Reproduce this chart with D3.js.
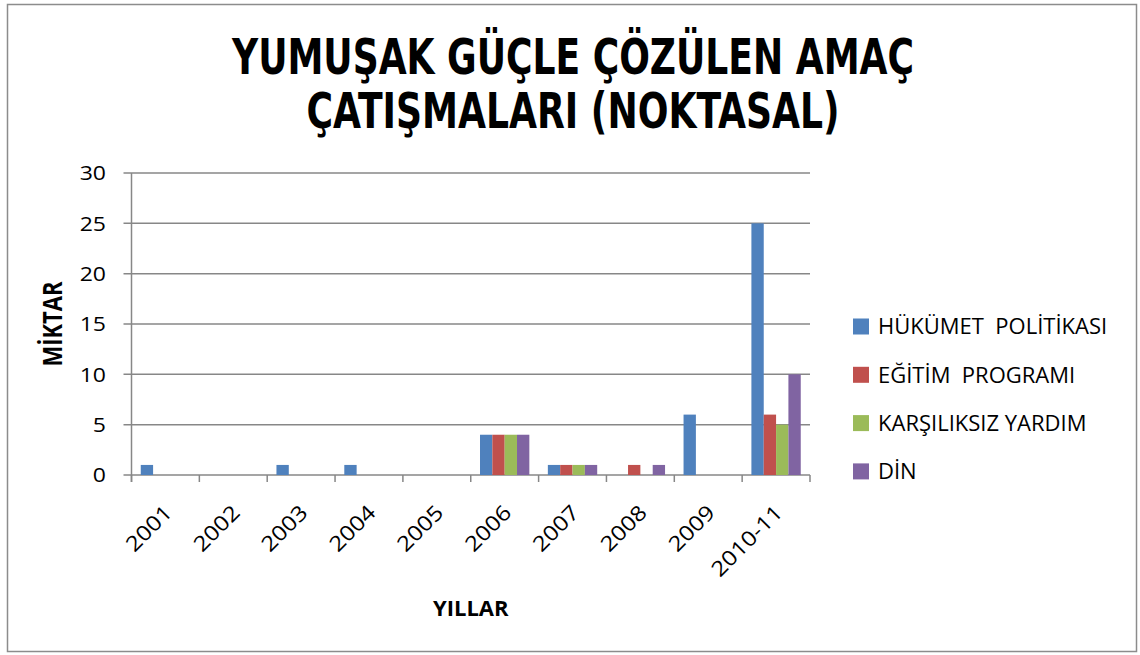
<!DOCTYPE html>
<html>
<head>
<meta charset="utf-8">
<script src="https://cdn.jsdelivr.net/npm/d3@7"></script>
<style>
  html, body { margin: 0; padding: 0; background: #fff; }
  svg { display: block; }
</style>
</head>
<body>
<svg id="chart" width="1140" height="655"></svg>
<script>
// Years on the category axis
const years = ["2001", "2002", "2003", "2004", "2005", "2006", "2007", "2008", "2009", "2010-11"];

// Series names (legend order)
const seriesNames = ["HÜKÜMET  POLİTİKASI", "EĞİTİM  PROGRAMI", "KARŞILIKSIZ YARDIM", "DİN"];

// Values per series, one per year
const hukumetPolitikasi = [1, 0, 1, 1, 0, 4, 1, 0, 6, 25];
const egitimProgrami    = [0, 0, 0, 0, 0, 4, 1, 1, 0, 6];
const karsiliksizYardim = [0, 0, 0, 0, 0, 4, 1, 0, 0, 5];
const din               = [0, 0, 0, 0, 0, 4, 1, 1, 0, 10];

// Value axis ticks
const yTicks = [0, 5, 10, 15, 20, 25, 30];

const titleLines = ["YUMUŞAK GÜÇLE ÇÖZÜLEN AMAÇ", "ÇATIŞMALARI (NOKTASAL)"];
const yAxisTitle = "MİKTAR";
const xAxisTitle = "YILLAR";

const seriesValues = [hukumetPolitikasi, egitimProgrami, karsiliksizYardim, din];
const colors = ["#4F81BD", "#C0504D", "#9BBB59", "#8064A2"];

const svg = d3.select("#chart");
const gridColor = "#878787";
const bodyFont = "'Open Sans', 'DejaVu Sans', sans-serif";
const wide = 1.15; // horizontal widening of the label glyphs

// Outer frame
svg.append("rect")
  .attr("x", 7.5).attr("y", 4.5)
  .attr("width", 1129).attr("height", 647)
  .attr("fill", "#fff")
  .attr("stroke", "#8c8c8c").attr("stroke-width", 1.5);

// Plot area
const plot = { left: 131.5, right: 810, top: 173, bottom: 475 };

const x0 = d3.scaleBand().domain(years).range([plot.left, plot.right]).paddingInner(0).paddingOuter(0);
const x1 = d3.scaleBand().domain(d3.range(seriesNames.length))
  .range([0, x0.bandwidth()]).paddingInner(0).paddingOuter(0.75);
const y = d3.scaleLinear().domain([0, 30]).range([plot.bottom, plot.top]);

// Horizontal gridlines with outward tick marks
svg.append("g")
  .selectAll("line")
  .data(yTicks)
  .join("line")
  .attr("x1", plot.left - 8).attr("x2", plot.right)
  .attr("y1", d => y(d)).attr("y2", d => y(d))
  .attr("stroke", gridColor).attr("stroke-width", 1.5);

// Value axis labels
svg.append("g")
  .selectAll("text")
  .data(yTicks)
  .join("text")
  .attr("transform", d => `translate(106,${y(d)}) scale(${wide},1)`)
  .attr("dy", "0.36em")
  .attr("text-anchor", "end")
  .attr("font-family", bodyFont).attr("font-size", 20)
  .attr("fill", "#000")
  .text(d => d);

// Value axis line
svg.append("line")
  .attr("x1", plot.left).attr("x2", plot.left)
  .attr("y1", plot.top).attr("y2", plot.bottom + 7)
  .attr("stroke", gridColor).attr("stroke-width", 1.5);

// Category boundary ticks
const boundaries = years.map(d => x0(d)).concat([plot.right]);
svg.append("g")
  .selectAll("line")
  .data(boundaries)
  .join("line")
  .attr("x1", d => d).attr("x2", d => d)
  .attr("y1", plot.bottom).attr("y2", plot.bottom + 7)
  .attr("stroke", gridColor).attr("stroke-width", 1.5);

// Bars
const groups = svg.append("g")
  .selectAll("g")
  .data(years)
  .join("g")
  .attr("transform", d => `translate(${x0(d)},0)`);

groups.selectAll("rect")
  .data((d, i) => seriesValues.map((vals, s) => ({ s, v: vals[i] })))
  .join("rect")
  .attr("x", d => x1(d.s))
  .attr("width", x1.bandwidth())
  .attr("y", d => y(d.v))
  .attr("height", d => y(0) - y(d.v))
  .attr("fill", d => colors[d.s]);

// Category labels, rotated
svg.append("g")
  .selectAll("text")
  .data(years)
  .join("text")
  .attr("text-anchor", "end")
  .attr("transform", d => `translate(${x0(d) + x0.bandwidth() / 2 + 8},${plot.bottom + 39}) rotate(-45) scale(${wide},1)`)
  .attr("font-family", bodyFont).attr("font-size", 21)
  .attr("fill", "#000")
  .text(d => d);

// Axis titles
svg.append("text")
  .attr("x", (plot.left + plot.right) / 2).attr("y", 616)
  .attr("text-anchor", "middle")
  .attr("font-family", bodyFont).attr("font-weight", "bold").attr("font-size", 22)
  .text(xAxisTitle);

svg.append("text")
  .attr("transform", `translate(62,${(plot.top + plot.bottom) / 2}) scale(1.25,1) rotate(-90)`)
  .attr("text-anchor", "middle")
  .attr("font-family", bodyFont).attr("font-weight", "bold").attr("font-size", 22)
  .text(yAxisTitle);

// Chart title
const titleFont = "'Liberation Sans Narrow', 'DejaVu Sans Condensed', 'Open Sans', sans-serif";
const titleY = [74, 128];
const titleWidths = [682, 533];
svg.append("g")
  .selectAll("text")
  .data(titleLines)
  .join("text")
  .attr("x", 573)
  .attr("y", (d, i) => titleY[i])
  .attr("text-anchor", "middle")
  .attr("font-family", titleFont).attr("font-weight", "bold").attr("font-size", 50)
  .attr("textLength", (d, i) => titleWidths[i])
  .attr("lengthAdjust", "spacingAndGlyphs")
  .attr("fill", "#000")
  .text(d => d);

// Legend
const legend = svg.append("g")
  .selectAll("g")
  .data(seriesNames)
  .join("g")
  .attr("transform", (d, i) => `translate(853,${326.5 + i * 48.3})`);

legend.append("rect")
  .attr("x", 0).attr("y", -8)
  .attr("width", 16).attr("height", 16)
  .attr("fill", (d, i) => colors[i]);

legend.append("text")
  .attr("x", 25).attr("y", 0)
  .attr("dy", "0.36em")
  .attr("font-family", bodyFont).attr("font-size", 22)
  .attr("fill", "#000")
  .style("white-space", "pre")
  .text(d => d);
</script>
</body>
</html>
